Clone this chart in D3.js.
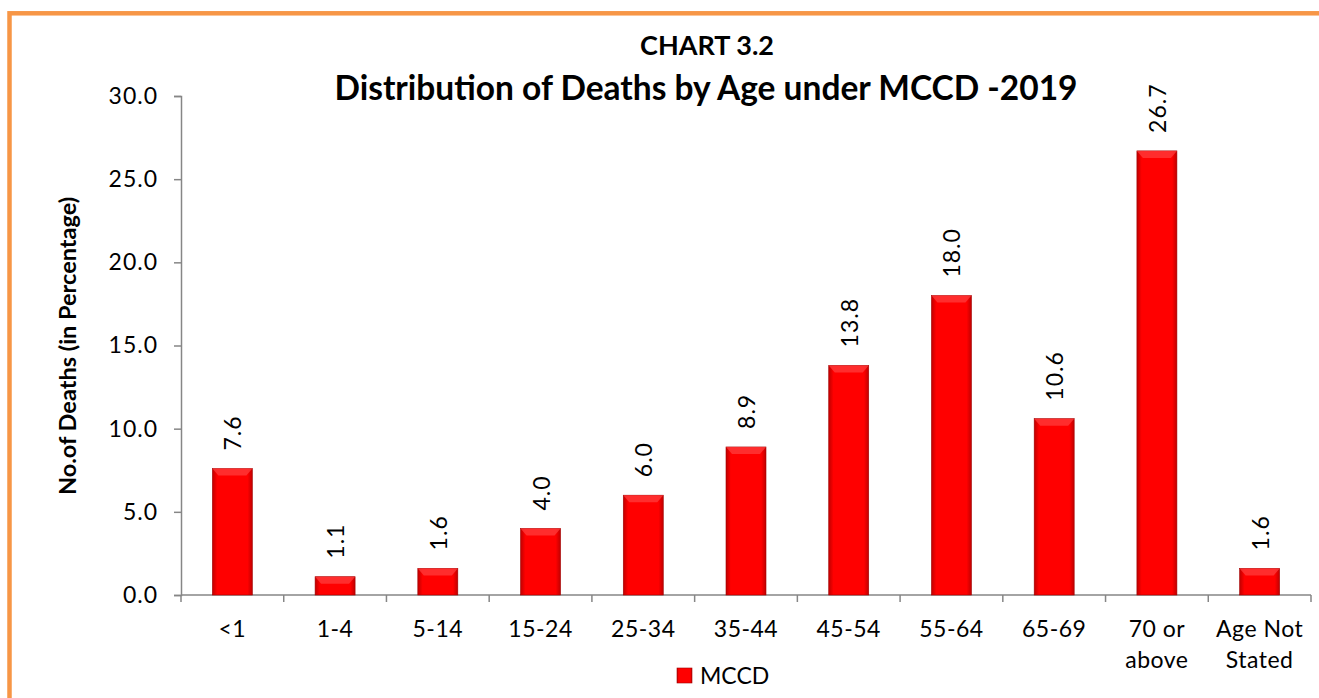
<!DOCTYPE html>
<html>
<head>
<meta charset="utf-8">
<script src="https://cdn.jsdelivr.net/npm/d3@7"></script>
<style>
  body { margin: 0; background: #fff; }
  text { font-family: Lato, "Open Sans", sans-serif; fill: #000; }
</style>
</head>
<body>
<svg id="chart" width="1319" height="698"></svg>
<script>
// age groups and percentages
const ageGroups = ['<1','1-4','5-14','15-24','25-34','35-44','45-54','55-64','65-69','70 or above','Age Not Stated'];
const deaths = [7.6, 1.1, 1.6, 4.0, 6.0, 8.9, 13.8, 18.0, 10.6, 26.7, 1.6];
const yTicks = [0, 5, 10, 15, 20, 25, 30];
const seriesName = 'MCCD';

const svg = d3.select('#chart');

// orange frame
svg.append('rect')
    .attr('x', 9.5).attr('y', 13.3)
    .attr('width', 1330).attr('height', 700)
    .attr('fill', 'none')
    .attr('stroke', '#f79646')
    .attr('stroke-width', 4.5);

// bar gradient
const defs = svg.append('defs');
const g1 = defs.append('linearGradient').attr('id', 'barH').attr('x1', 0).attr('x2', 1).attr('y1', 0).attr('y2', 0);
g1.append('stop').attr('offset', '0%').attr('stop-color', '#c00000');
g1.append('stop').attr('offset', '12%').attr('stop-color', '#ff0000');
g1.append('stop').attr('offset', '88%').attr('stop-color', '#ff0000');
g1.append('stop').attr('offset', '100%').attr('stop-color', '#c00000');

const margin = {left: 181, right: 1311, top: 96, bottom: 595};
const tickFont = '23px';

const x = d3.scaleBand()
    .domain(ageGroups)
    .range([margin.left, margin.right]);

const y = d3.scaleLinear()
    .domain([0, 30])
    .range([margin.bottom, margin.top]);

// y axis
const yAxis = svg.append('g')
    .attr('transform', 'translate(' + margin.left + ',0)')
    .call(d3.axisLeft(y).tickValues(yTicks).tickFormat(d3.format('.1f')).tickSize(7).tickPadding(16));
yAxis.select('.domain').attr('stroke', '#868686').attr('stroke-width', 1.5);
yAxis.selectAll('.tick line').attr('stroke', '#868686').attr('stroke-width', 1.5);
yAxis.selectAll('.tick text')
    .style('font-size', tickFont).style('letter-spacing', '1px')
    .style('font-family', 'Lato, sans-serif').attr('fill', '#000');

// x axis line + boundary ticks
const xAxis = svg.append('g');
xAxis.append('line')
    .attr('x1', margin.left).attr('x2', margin.right)
    .attr('y1', margin.bottom).attr('y2', margin.bottom)
    .attr('stroke', '#868686').attr('stroke-width', 1.5);
const bounds = ageGroups.map(d => x(d)).concat([margin.right]);
xAxis.selectAll('.xt')
    .data(bounds)
    .enter()
    .append('line')
    .attr('x1', d => d).attr('x2', d => d)
    .attr('y1', margin.bottom).attr('y2', margin.bottom + 7)
    .attr('stroke', '#868686').attr('stroke-width', 1.5);

// category labels (wrap the two long ones)
const splitLabel = { '70 or above': ['70 or', 'above'], 'Age Not Stated': ['Age Not', 'Stated'] };
xAxis.selectAll('.xl')
    .data(ageGroups)
    .enter()
    .append('text')
    .attr('text-anchor', 'middle')
    .style('font-size', tickFont).style('letter-spacing', '0.5px')
    .each(function(d) {
        const lines = splitLabel[d] || [d];
        const t = d3.select(this);
        lines.forEach(function(l, i) {
            t.append('tspan')
                .attr('x', x(d) + x.bandwidth() / 2)
                .attr('y', 637 + i * 31)
                .text(l);
        });
    });

// bars
const barW = 40;
const bars = svg.append('g').selectAll('g')
    .data(deaths)
    .enter()
    .append('g');

bars.append('rect')
    .attr('x', (d, i) => x(ageGroups[i]) + x.bandwidth() / 2 - barW / 2)
    .attr('y', d => y(d))
    .attr('width', barW)
    .attr('height', d => y(0) - y(d))
    .attr('fill', 'url(#barH)')
    .attr('stroke', '#a00000')
    .attr('stroke-width', 0.6);

// top bevel highlight
bars.append('path')
    .attr('d', function(d, i) {
        const x0 = x(ageGroups[i]) + x.bandwidth() / 2 - barW / 2;
        const y0 = y(d);
        const h = Math.min(7, (y(0) - y(d)) / 2);
        return 'M' + x0 + ',' + y0 + 'L' + (x0 + barW) + ',' + y0 +
               'L' + (x0 + barW - 6) + ',' + (y0 + h) + 'L' + (x0 + 6) + ',' + (y0 + h) + 'Z';
    })
    .attr('fill', '#ff4040')
    .attr('opacity', 0.7);

// value labels, rotated
bars.append('text')
    .attr('transform', (d, i) => 'translate(' + (x(ageGroups[i]) + x.bandwidth() / 2 + 9) + ',' + (y(d) - 18) + ') rotate(-90)')
    .attr('text-anchor', 'start')
    .style('font-size', tickFont).style('letter-spacing', '1px')
    .text(d => d.toFixed(1));

// titles
svg.append('text')
    .attr('x', 707).attr('y', 55)
    .attr('text-anchor', 'middle')
    .style('font-size', '27px').style('font-weight', 'bold')
    .text('CHART 3.2');
svg.append('text')
    .attr('x', 706).attr('y', 100)
    .attr('text-anchor', 'middle')
    .style('font-size', '33.5px').style('font-weight', 'bold')
    .text('Distribution of Deaths by Age under MCCD -2019');

// y axis title
svg.append('text')
    .attr('transform', 'translate(76,346) rotate(-90)')
    .attr('text-anchor', 'middle')
    .style('font-size', '23.5px').style('font-weight', 'bold')
    .text('No.of Deaths (in Percentage)');

// legend
const leg = svg.append('g').attr('transform', 'translate(677,668)');
leg.append('rect')
    .attr('width', 15).attr('height', 15)
    .attr('fill', 'url(#barH)')
    .attr('stroke', '#a00000').attr('stroke-width', 0.6);
leg.append('text')
    .attr('x', 23).attr('y', 16)
    .style('font-size', tickFont)
    .text(seriesName);
</script>
</body>
</html>
